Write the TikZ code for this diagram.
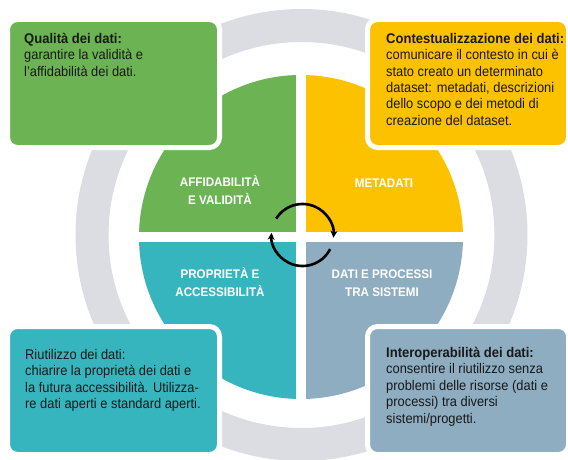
\documentclass[tikz,border=0pt]{standalone}
\usepackage{fontspec}
\setmainfont{Liberation Sans}[UprightFeatures={FakeStretch=0.92},BoldFeatures={FakeStretch=0.93}]
\usetikzlibrary{positioning,arrows.meta}

\definecolor{qgreen}{RGB}{108,179,84}
\definecolor{qyellow}{RGB}{252,194,0}
\definecolor{qteal}{RGB}{55,181,191}
\definecolor{qblue}{RGB}{142,173,193}
\definecolor{ringgray}{RGB}{220,221,226}
\definecolor{textdark}{RGB}{25,25,25}

\tikzset{
	infobox/.style={draw=white, line width=5pt, rounded corners=10pt,
		inner sep=0pt, outer sep=0pt, minimum height=128pt, anchor=south west},
	boxtext/.style={align=left, inner sep=0pt, text=textdark,
		font=\fontsize{14}{16.4}\selectfont},
	quadlabel/.style={align=center, inner sep=0pt, text=white,
		font=\fontsize{12.5}{18}\selectfont\bfseries},
	turn/.style={line width=2.6pt, -{Stealth[length=7pt,width=7pt]}}
}

\begin{document}
\begin{tikzpicture}[x=1pt,y=1pt]

\useasboundingbox (0,0) rectangle (568,459);
\fill[white] (0,0) rectangle (568,459);

\coordinate (ring) at (301.5,224);
\coordinate (c) at (301,222);
\coordinate (hub) at (302.5,224);

% grey ring
\draw[ringgray, line width=33pt] (ring) circle[radius=209.5];

% the four quadrants
\foreach \col/\a in {qyellow/0, qgreen/90, qteal/180, qblue/270}
{
	\fill[\col] (c) -- ++(\a:162) arc[start angle=\a, delta angle=90, radius=162] -- cycle;
};
\draw[white, line width=10pt] ([xshift=-166pt]c) -- ([xshift=166pt]c);
\draw[white, line width=10pt] ([yshift=-166pt]c) -- ([yshift=166pt]c);

\node[quadlabel] (l1) at (220,269) {AFFIDABILITÀ\\E VALIDITÀ};
\node[quadlabel, anchor=base] (l2) at (384,272) {METADATI};
\node[quadlabel] (l3) at (220,177) {PROPRIETÀ E\\ACCESSIBILITÀ};
\node[quadlabel] (l4) at (382,175.5) {DATI E PROCESSI\\TRA SISTEMI};

% cycle arrows
\draw[turn] (hub) ++(148:31) arc[start angle=148, end angle=-5, radius=31];
\draw[turn] (hub) ++(-27:31) arc[start angle=-27, end angle=-184, radius=31];

% corner boxes
\foreach \i/\col/\x/\y/\w in {1/qgreen/7.5/311.5/212, 2/qyellow/367.5/311.5/201,
				3/qteal/7.5/4.5/212, 4/qblue/367.5/4.5/201}
{
	\node[infobox, fill=\col, minimum width=\w pt] (b\i) at (\x,\y) {};
};

\node[boxtext, below right=13.5pt and 16.5pt of b1.north west] (t1)
	{\textbf{Qualità dei dati:}\\garantire la validità e\\l'affidabilità dei dati.};
\node[boxtext, below right=13.5pt and 18.5pt of b2.north west] (t2)
	{\textbf{Contestualizzazione dei dati:}\\comunicare il contesto in cui è\\stato creato un determinato\\dataset: metadati, descrizioni\\dello scopo e dei metodi di\\creazione del dataset.};
\node[boxtext, below right=22.5pt and 17.5pt of b3.north west] (t3)
	{Riutilizzo dei dati:\\chiarire la proprietà dei dati e\\la futura accessibilità. Utilizza-\\re dati aperti e standard aperti.};
\node[boxtext, below right=20.5pt and 18.5pt of b4.north west] (t4)
	{\textbf{Interoperabilità dei dati:}\\consentire il riutilizzo senza\\problemi delle risorse (dati e\\processi) tra diversi\\sistemi/progetti.};
\end{tikzpicture}
\end{document}
